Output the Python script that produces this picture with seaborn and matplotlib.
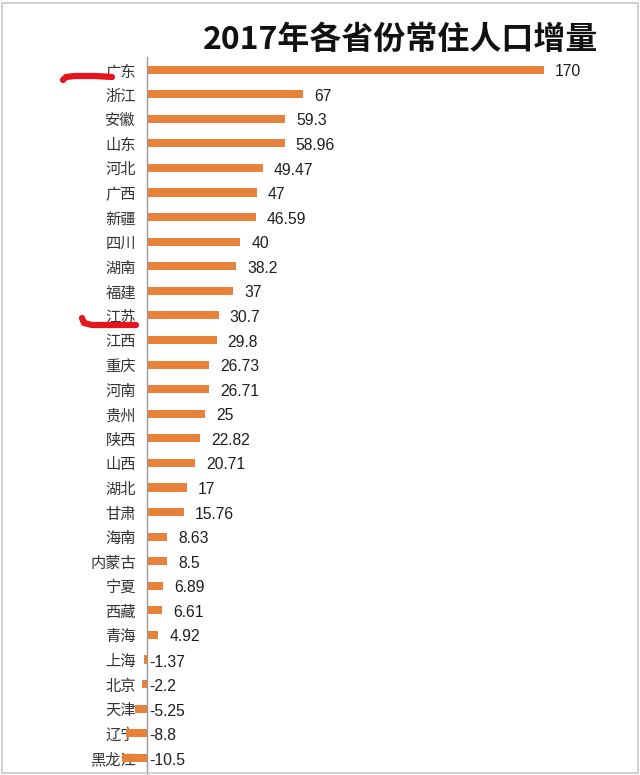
import matplotlib
matplotlib.use("Agg")
import matplotlib.pyplot as plt
import seaborn as sns
import pandas as pd
from matplotlib.patches import Rectangle
from matplotlib.lines import Line2D

provinces = ["广东", "浙江", "安徽", "山东", "河北", "广西", "新疆", "四川", "湖南", "福建",
             "江苏", "江西", "重庆", "河南", "贵州", "陕西", "山西", "湖北", "甘肃", "海南",
             "内蒙古", "宁夏", "西藏", "青海", "上海", "北京", "天津", "辽宁", "黑龙江"]
values = [170, 67, 59.3, 58.96, 49.47, 47, 46.59, 40, 38.2, 37,
          30.7, 29.8, 26.73, 26.71, 25, 22.82, 20.71, 17, 15.76, 8.63,
          8.5, 6.89, 6.61, 4.92, -1.37, -2.2, -5.25, -8.8, -10.5]
title = "2017年各省份常住人口增量"

df = pd.DataFrame({"province": provinces, "value": values})

sns.set_theme(style="white")
plt.rcParams["font.family"] = ["Noto Sans CJK SC", "DejaVu Sans"]

fig = plt.figure(figsize=(6.4, 7.75), dpi=100)
ax = fig.add_axes([147/640, 0.0, (620-147)/640, 0.926])

bar_color = "#E8823A"
sns.barplot(data=df, x="value", y="province", orient="h", color=bar_color,
            width=0.33, saturation=1, ax=ax)
for p in ax.patches:
    p.set_clip_on(False)
    p.set_edgecolor("none")

ax.set_xlim(0, (620-147)/2.335)
ax.set_ylim(28.7, -0.5)
ax.set_xlabel("")
ax.set_ylabel("")
ax.set_xticks([])
ax.tick_params(axis="y", length=0, pad=8, labelsize=11, labelcolor="#333333")
for s in ["top", "right", "bottom"]:
    ax.spines[s].set_visible(False)
ax.spines["left"].set_color("#9a9a9a")
ax.spines["left"].set_linewidth(1.0)

num_font = ["Liberation Sans", "DejaVu Sans"]
for i, v in enumerate(values):
    label = f"{v:g}"
    if v >= 0:
        ax.annotate(label, (v, i), xytext=(8, -1.5), textcoords="offset points",
                    va="center", ha="left", fontsize=11.3, color="#1e1e1e",
                    family=num_font, annotation_clip=False)
    else:
        ax.annotate(label, (0, i), xytext=(1.5, -2), textcoords="offset points",
                    va="center", ha="left", fontsize=11.3, color="#1e1e1e",
                    family=num_font, annotation_clip=False)

fig.text(598/640, 1 - 40/775, title, ha="right", va="center", fontsize=23,
         fontweight="bold", color="#111111")

# hand-drawn red underline marks
W, H = 640, 775
m1x = [63, 66, 75, 95, 112]
m1y = [80, 77, 76, 76, 77]
m2x = [82, 84, 92, 115, 136]
m2y = [318, 323, 325, 325, 325]
for mx, my in [(m1x, m1y), (m2x, m2y)]:
    fig.add_artist(Line2D([x / W for x in mx], [1 - y / H for y in my],
                          color="#E3161E", lw=4.5, solid_capstyle="round",
                          solid_joinstyle="round", transform=fig.transFigure))

fig.add_artist(Rectangle((0.003, 0.002), 0.994, 0.994, transform=fig.transFigure,
                         fill=False, edgecolor="#c8c8c8", lw=1.2))

fig.savefig("out.png", dpi=100)
